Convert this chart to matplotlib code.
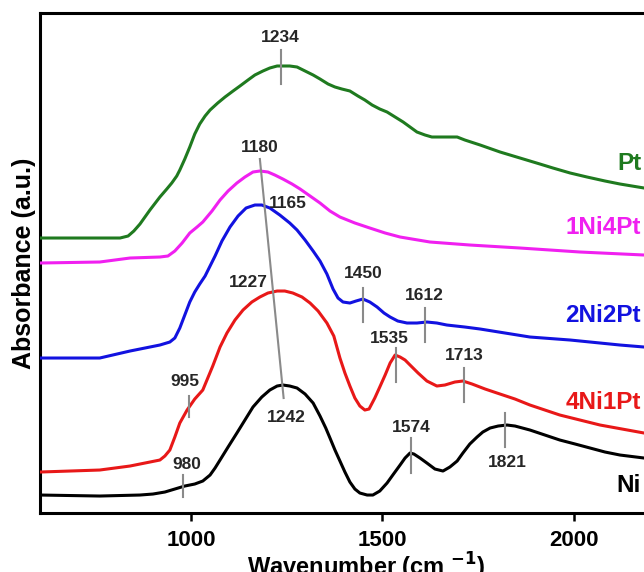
"""
ftir_spectra.py - stacked absorbance spectra for the Ni/Pt series with peak marks.
"""

import matplotlib
matplotlib.use("Agg")
import matplotlib.pyplot as plt

plt.rcParams["font.family"] = ["Liberation Sans", "DejaVu Sans"]
plt.rcParams["font.weight"] = "bold"
plt.rcParams["mathtext.default"] = "bf"

# ── data (wavenumber in cm-1, absorbance in a.u., already offset) ───────────
ni_x = [606, 762, 867, 901, 932, 958, 984, 1010, 1031, 1050,
        1063, 1076, 1097, 1120, 1141, 1162, 1185, 1206, 1225, 1240,
        1258, 1277, 1298, 1319, 1337, 1352, 1363, 1376, 1389, 1402,
        1415, 1428, 1441, 1460, 1475, 1493, 1512, 1527, 1546, 1559,
        1572, 1582, 1598, 1616, 1637, 1658, 1676, 1695, 1710, 1728,
        1747, 1762, 1781, 1802, 1825, 1846, 1885, 1924, 1963, 2003,
        2042, 2081, 2120, 2183, 2300]
ni_y = [0.18, 0.17, 0.18, 0.19, 0.21, 0.24, 0.27, 0.29, 0.32, 0.38,
        0.45, 0.53, 0.66, 0.80, 0.93, 1.06, 1.16, 1.23, 1.27, 1.28,
        1.27, 1.25, 1.19, 1.10, 0.97, 0.85, 0.75, 0.63, 0.52, 0.41,
        0.31, 0.24, 0.20, 0.18, 0.18, 0.22, 0.30, 0.38, 0.48, 0.55,
        0.60, 0.59, 0.55, 0.50, 0.44, 0.42, 0.46, 0.52, 0.60, 0.69,
        0.76, 0.81, 0.85, 0.87, 0.88, 0.87, 0.83, 0.78, 0.73, 0.69,
        0.65, 0.61, 0.58, 0.55, 0.50]

ni4_x = [606, 762, 841, 893, 919, 932, 945, 958, 971, 990,
         1010, 1031, 1044, 1057, 1076, 1094, 1115, 1136, 1159, 1180,
         1201, 1225, 1245, 1266, 1290, 1311, 1332, 1355, 1373, 1389,
         1402, 1415, 1428, 1441, 1454, 1465, 1480, 1493, 1507, 1520,
         1533, 1546, 1559, 1572, 1593, 1616, 1642, 1663, 1689, 1710,
         1734, 1768, 1799, 1846, 1885, 1963, 2068, 2183, 2300]
ni4_y = [0.41, 0.43, 0.47, 0.51, 0.53, 0.57, 0.63, 0.76, 0.90, 1.03,
         1.14, 1.23, 1.35, 1.47, 1.66, 1.80, 1.93, 2.03, 2.11, 2.16,
         2.20, 2.22, 2.22, 2.20, 2.16, 2.10, 2.02, 1.90, 1.77, 1.55,
         1.40, 1.27, 1.15, 1.07, 1.03, 1.04, 1.15, 1.26, 1.38, 1.50,
         1.58, 1.56, 1.53, 1.48, 1.40, 1.32, 1.27, 1.28, 1.31, 1.32,
         1.29, 1.24, 1.20, 1.14, 1.08, 0.98, 0.88, 0.80, 0.71]

ni2_x = [606, 762, 841, 919, 945, 958, 971, 984, 997, 1010,
         1023, 1037, 1050, 1063, 1081, 1102, 1123, 1144, 1167, 1185,
         1206, 1232, 1258, 1277, 1298, 1319, 1337, 1355, 1371, 1384,
         1397, 1415, 1431, 1449, 1467, 1486, 1504, 1520, 1540, 1564,
         1590, 1616, 1642, 1668, 1715, 1755, 1820, 1885, 1990, 2120,
         2183, 2300]
ni2_y = [1.55, 1.55, 1.62, 1.68, 1.71, 1.75, 1.85, 1.98, 2.11, 2.21,
         2.29, 2.37, 2.47, 2.57, 2.72, 2.86, 2.97, 3.05, 3.08, 3.08,
         3.05, 2.98, 2.90, 2.83, 2.73, 2.62, 2.52, 2.39, 2.24, 2.15,
         2.11, 2.10, 2.12, 2.14, 2.11, 2.06, 2.00, 1.96, 1.92, 1.90,
         1.90, 1.91, 1.90, 1.88, 1.86, 1.84, 1.80, 1.76, 1.73, 1.68,
         1.66, 1.61]

ni1_x = [606, 762, 841, 919, 940, 958, 977, 997, 1016, 1031,
         1055, 1076, 1097, 1120, 1141, 1162, 1180, 1201, 1219, 1240,
         1264, 1285, 1311, 1337, 1363, 1389, 1428, 1467, 1507, 1546,
         1624, 1728, 1859, 2016, 2183, 2300]
ni1_y = [2.50, 2.51, 2.55, 2.56, 2.57, 2.62, 2.70, 2.80, 2.86, 2.91,
         3.02, 3.13, 3.22, 3.30, 3.36, 3.41, 3.42, 3.41, 3.38, 3.34,
         3.29, 3.24, 3.17, 3.10, 3.02, 2.96, 2.90, 2.85, 2.80, 2.76,
         2.71, 2.68, 2.65, 2.61, 2.58, 2.54]

pt_x = [606, 815, 836, 851, 867, 893, 919, 937, 950, 963,
        971, 984, 997, 1010, 1023, 1037, 1050, 1070, 1089, 1110,
        1128, 1149, 1167, 1188, 1206, 1225, 1240, 1258, 1277, 1298,
        1319, 1337, 1358, 1376, 1394, 1415, 1436, 1454, 1473, 1493,
        1512, 1533, 1554, 1572, 1590, 1611, 1629, 1650, 1676, 1695,
        1715, 1755, 1807, 1859, 1911, 1945, 1990, 2034, 2081, 2120,
        2183, 2300]
pt_y = [2.75, 2.75, 2.77, 2.82, 2.89, 3.03, 3.16, 3.24, 3.30, 3.37,
        3.43, 3.54, 3.66, 3.79, 3.89, 3.97, 4.03, 4.10, 4.16, 4.22,
        4.27, 4.33, 4.38, 4.42, 4.45, 4.47, 4.47, 4.47, 4.46, 4.42,
        4.38, 4.34, 4.29, 4.26, 4.24, 4.22, 4.17, 4.13, 4.08, 4.04,
        4.01, 3.96, 3.91, 3.86, 3.81, 3.78, 3.76, 3.76, 3.76, 3.76,
        3.73, 3.68, 3.61, 3.55, 3.49, 3.45, 3.40, 3.36, 3.32, 3.29,
        3.25, 3.15]

series_names = ["Pt", "1Ni4Pt", "2Ni2Pt", "4Ni1Pt", "Ni"]
series_label_y = [3.50, 2.86, 1.98, 1.11, 0.28]

# peak marks: label, tick position, tick y-range, text position
peak_labels = ["1234", "995", "980", "1450", "1612", "1535", "1713", "1574", "1821"]
peak_pos = [1234, 995, 980, 1450, 1612, 1535, 1713, 1574, 1821]
peak_y0 = [4.29, 0.96, 0.16, 1.91, 1.71, 1.31, 1.11, 0.40, 0.66]
peak_y1 = [4.63, 1.17, 0.38, 2.25, 2.05, 1.65, 1.45, 0.75, 1.00]
peak_text_x = [1234, 984, 990, 1449, 1608, 1517, 1713, 1574, 1826]
peak_text_y = [4.76, 1.32, 0.49, 2.40, 2.18, 1.75, 1.58, 0.86, 0.51]

# shifting main band: 1180 (1Ni4Pt) ... 1242 (Ni)
shift_x = [1180, 1242]
shift_y = [3.54, 1.15]
shift_labels = ["1180", "1165", "1227", "1242"]
shift_text_x = [1180, 1253, 1149, 1248]
shift_text_y = [3.66, 3.10, 2.31, 0.96]

# ── chart ────────────────────────────────────────────────────────────────────
fig = plt.figure(figsize=(6.44, 5.72), dpi=100)
ax = fig.add_axes([0.0621, 0.1031, 1.0124, 0.8733])

colors = ["#1f7a1f", "#f020f0", "#1212e0", "#e81818", "black"]
curves = [(pt_x, pt_y), (ni1_x, ni1_y), (ni2_x, ni2_y), (ni4_x, ni4_y), (ni_x, ni_y)]
for (xs, ys), c in zip(curves, colors):
    ax.plot(xs, ys, color=c, lw=2.2, solid_joinstyle="round",
            solid_capstyle="round", zorder=3)

mark_color = "#8a8a8a"
for px, y0, y1 in zip(peak_pos, peak_y0, peak_y1):
    ax.plot([px, px], [y0, y1], color=mark_color, lw=1.5, zorder=4)
for lab, tx, ty in zip(peak_labels, peak_text_x, peak_text_y):
    ax.text(tx, ty, lab, ha="center", va="center", fontsize=12.5,
            color="#262626", fontweight="bold", zorder=5)

ax.plot(shift_x, shift_y, color=mark_color, lw=1.5, zorder=4)
for lab, tx, ty in zip(shift_labels, shift_text_x, shift_text_y):
    ax.text(tx, ty, lab, ha="center", va="center", fontsize=12.5,
            color="#262626", fontweight="bold", zorder=5)

for name, ly, c in zip(series_names, series_label_y, colors):
    ax.text(2175, ly, name, ha="right", va="center", fontsize=17.5,
            color=c, fontweight="bold", zorder=5)

ax.set_xlim(606, 2308)
ax.set_ylim(0, 4.995)
ax.set_xticks([1000, 1500, 2000])
ax.set_yticks([])
ax.tick_params(axis="x", direction="out", length=6, width=1.8,
               labelsize=16, pad=6)
for side in ("left", "top", "bottom"):
    ax.spines[side].set_linewidth(2.2)
ax.spines["right"].set_visible(False)

ax.set_xlabel(r"Wavenumber (cm $^{-1}$)", fontsize=17, fontweight="bold",
              labelpad=0)
ax.set_ylabel("Absorbance (a.u.)", fontsize=18, fontweight="bold", labelpad=3)

fig.savefig("out.png", dpi=100)
